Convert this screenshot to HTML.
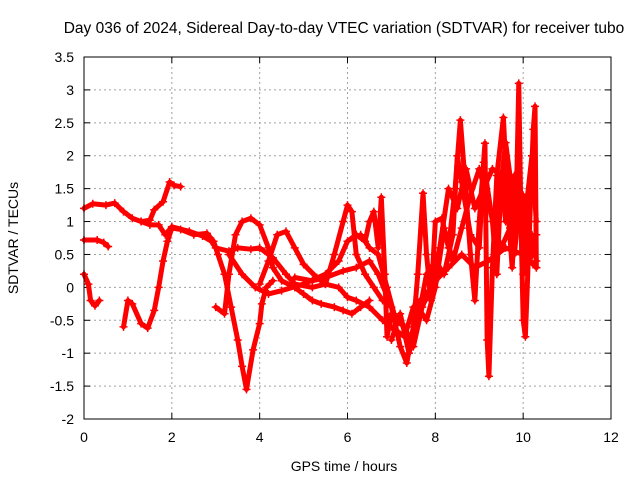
<!DOCTYPE html>
<html><head><meta charset="utf-8"><style>
body{margin:0;background:#fff;}
svg text{font-family:"Liberation Sans",sans-serif;fill:#000;}
</style></head><body>
<svg id="chart" width="640" height="480" xmlns="http://www.w3.org/2000/svg">
<rect width="640" height="480" fill="#fff"/>
<text x="344" y="33" font-size="15.5" text-anchor="middle">Day 036 of 2024, Sidereal Day-to-day VTEC variation (SDTVAR) for receiver tubo</text>
<text x="344" y="471" font-size="14" text-anchor="middle">GPS time / hours</text>
<text x="18" y="238" font-size="14" text-anchor="middle" transform="rotate(-90 18 238)">SDTVAR / TECUs</text>
<g id="grid"></g><g id="ticks"></g><g id="marks"></g>
<rect x="84" y="57" width="527" height="362" fill="none" stroke="#000" stroke-width="1"/>
</svg>
<script>
const xTicks=[0,2,4,6,8,10,12];
const yTicks=[3.5,3,2.5,2,1.5,1,0.5,0,-0.5,-1,-1.5,-2];
const trackA=[[0,1.2],[0.2,1.27],[0.5,1.25],[0.7,1.28],[0.9,1.15],[1.1,1.05],[1.3,1.0],[1.5,1.02],[1.6,1.18],[1.8,1.3],[1.95,1.6],[2.05,1.55],[2.2,1.53]];
const trackB=[[0,0.72],[0.3,0.72],[0.45,0.68],[0.55,0.62]];
const trackC=[[0,0.2],[0.1,0.05],[0.15,-0.2],[0.25,-0.28],[0.35,-0.2]];
const trackD=[[0.9,-0.6],[1.0,-0.2],[1.1,-0.25],[1.3,-0.55],[1.45,-0.62],[1.6,-0.35],[1.7,0.0],[1.8,0.4],[1.9,0.7],[2.0,0.9],[2.2,0.88],[2.5,0.8],[2.8,0.82],[2.95,0.7],[3.05,0.5],[3.2,0.2],[3.35,-0.3],[3.5,-0.8],[3.6,-1.2],[3.7,-1.55],[3.85,-0.95],[4.0,-0.55],[4.05,-0.25],[4.15,0.0],[4.3,0.1]];
const trackE=[[1.3,1.0],[1.5,0.95],[1.7,0.95],[1.85,0.8],[2.0,0.92],[2.4,0.85],[2.7,0.78],[2.9,0.7],[3.0,0.6],[3.3,0.55],[3.5,0.6],[3.8,0.58],[4.0,0.6],[4.3,0.45],[4.6,0.2],[4.8,0.05],[5.2,0.0],[5.5,0.05],[5.8,0.0],[6.0,-0.15],[6.2,-0.2],[6.5,-0.3],[6.8,-0.5],[7.0,-0.6],[7.3,-0.75],[7.5,-0.3],[7.8,-0.1],[8.0,0.1],[8.3,0.3],[8.6,0.5],[8.9,0.3],[9.2,0.4],[9.6,0.6],[10.0,0.5],[10.3,0.3]];
const trackF=[[3.0,-0.3],[3.2,-0.4],[3.3,0.2],[3.45,0.8],[3.6,1.0],[3.8,1.05],[4.0,0.95],[4.2,0.6],[4.3,0.3],[4.5,0.1],[4.8,0.0],[5.0,-0.1],[5.2,-0.2],[5.4,-0.25],[5.7,-0.3],[5.9,-0.35],[6.1,-0.4],[6.3,-0.3],[6.5,-0.2]];
const trackG=[[4.0,0.05],[4.2,0.4],[4.4,0.8],[4.6,0.85],[4.8,0.6],[5.0,0.35],[5.3,0.15],[5.5,0.05],[5.7,0.5],[5.9,1.0],[6.0,1.25],[6.1,1.15],[6.2,0.5],[6.4,0.2],[6.6,0.0],[6.8,-0.2]];
const trackH=[[3.3,0.5],[3.6,0.2],[3.9,0.0],[4.2,-0.1],[4.5,-0.05],[5.0,0.05],[5.5,0.2],[5.8,0.4],[6.0,0.7],[6.2,0.8],[6.4,0.7],[6.5,1.0],[6.6,1.15],[6.7,0.6],[6.77,1.37],[6.85,0.2],[6.9,-0.75],[7.0,-0.4]];
const trackI=[[4.8,0.15],[5.2,0.1],[5.5,0.15],[5.9,0.25],[6.2,0.3],[6.5,0.4],[6.7,0.2],[7.0,-0.3],[7.2,-0.9],[7.35,-1.15],[7.5,-0.6],[7.6,0.2],[7.72,1.43],[7.8,0.5],[7.9,-0.2],[8.0,1.0],[8.15,1.05],[8.3,0.6],[8.45,1.5],[8.57,2.54],[8.7,1.4],[8.8,0.5],[8.9,-0.2],[9.0,1.0],[9.13,2.19],[9.18,-0.8],[9.22,-1.35],[9.3,0.3],[9.4,1.7],[9.55,2.58],[9.65,1.2],[9.75,0.3],[9.85,1.5],[9.9,3.1],[9.95,1.0],[10.0,-0.5],[10.05,-0.75],[10.15,1.0],[10.23,2.4],[10.27,2.75],[10.3,0.3]];
const trackJ=[[6.3,0.8],[6.5,0.6],[6.7,0.5],[6.9,0.0],[7.1,-0.5],[7.3,-0.6],[7.5,-0.9],[7.7,-0.3],[7.9,0.0],[8.1,0.6],[8.3,1.5],[8.5,1.2],[8.7,1.8],[8.9,1.2],[9.1,1.5],[9.3,1.8],[9.5,1.7],[9.6,1.0],[9.7,1.5],[9.8,0.5],[9.9,1.2],[10.0,1.4],[10.1,0.6],[10.2,0.8],[10.3,0.4]];
const trackK=[[7.0,-0.8],[7.2,-0.4],[7.4,-1.0],[7.6,-0.5],[7.8,0.2],[8.0,0.4],[8.2,0.2],[8.4,0.8],[8.5,2.0],[8.6,1.6],[8.8,0.8],[9.0,0.6],[9.1,1.9],[9.3,1.0],[9.4,0.2],[9.5,1.6],[9.6,2.2],[9.7,1.7],[9.8,0.8],[9.9,2.0],[10.0,0.2],[10.1,1.4],[10.2,2.0],[10.3,1.0]];
const trackL=[[7.6,-0.3],[7.8,-0.5],[8.0,0.0],[8.2,0.9],[8.4,0.4],[8.6,0.9],[8.8,1.4],[9.0,1.8],[9.2,1.3],[9.35,0.9],[9.5,0.6],[9.7,0.9],[9.8,1.7],[10.0,1.0],[10.15,0.4],[10.3,0.8]];
const tracks=[trackA,trackB,trackC,trackD,trackE,trackF,trackG,trackH,trackI,trackJ,trackK,trackL];
const X0=84,X1=611,Y0=419,Y1=57;
function xs(t){return X0+(t-0)/(12-0)*(X1-X0);}
function ys(v){return Y0-(v-(-2))/(3.5-(-2))*(Y0-Y1);}
const NS="http://www.w3.org/2000/svg";
const grid=document.getElementById('grid'),ticks=document.getElementById('ticks'),marks=document.getElementById('marks');
function mk(tag,attrs,parent){const e=document.createElementNS(NS,tag);for(const k in attrs)e.setAttribute(k,attrs[k]);parent.appendChild(e);return e;}
xTicks.forEach(t=>{const x=xs(t);
 if(t>0&&t<12){const g=mk('line',{x1:x,x2:x,y1:Y1,y2:Y0,stroke:'#a0a0a0','stroke-dasharray':'2,3'},grid);
 
 }
 const l=mk('text',{x:x,y:Y0+23,'font-size':14,'text-anchor':'middle'},ticks);l.textContent=t;
 
 
 mk('line',{x1:x,x2:x,y1:Y0,y2:Y0-6,stroke:'#000'},ticks);mk('line',{x1:x,x2:x,y1:Y1,y2:Y1+6,stroke:'#000'},ticks);});
yTicks.forEach(v=>{const y=ys(v);
 if(v<3.5&&v>-2){const g=mk('line',{x1:X0,x2:X1,y1:y,y2:y,stroke:'#a0a0a0','stroke-dasharray':'2,3'},grid);
 
 }
 const l=mk('text',{x:X0-10,y:y+5,'font-size':14,'text-anchor':'end'},ticks);l.textContent=v;
 
 
 mk('line',{x1:X0,x2:X0+6,y1:y,y2:y,stroke:'#000'},ticks);mk('line',{x1:X1,x2:X1-6,y1:y,y2:y,stroke:'#000'},ticks);});
tracks.forEach((tr,i)=>{
 const p=mk('polyline',{points:tr.map(d=>xs(d[0])+','+ys(d[1])).join(' '),fill:'none',stroke:'#ff0000','stroke-width':5,'stroke-linejoin':'round','stroke-linecap':'round'},marks);
 
 
 tr.forEach(d=>{const x=xs(d[0]),y=ys(d[1]);
  const m=mk('path',{d:`M${x-4},${y}H${x+4}M${x},${y-4}V${y+4}`,stroke:'#ff0000','stroke-width':1.5},marks);
  
  });
});
</script>
</body></html>
